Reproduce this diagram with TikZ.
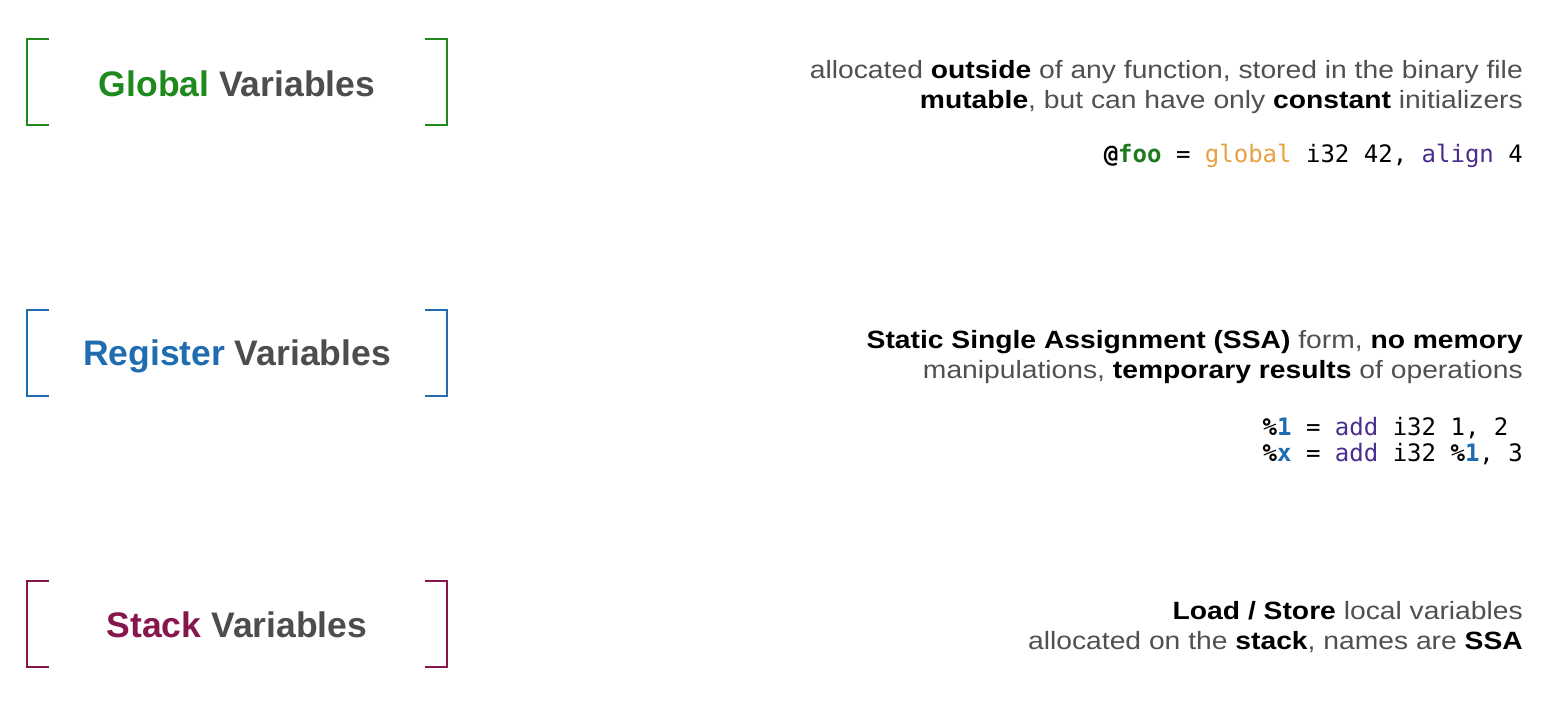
\documentclass[tikz,border=0pt]{standalone}
\usepackage{fontspec}
\setmainfont{Liberation Sans}
\setmonofont{DejaVu Sans Mono}
\newfontfamily\descfont{Liberation Sans}[FakeStretch=1.13]
\definecolor{globalgreen}{HTML}{1E8A1E}
\definecolor{regblue}{HTML}{1F6DB0}
\definecolor{stackred}{HTML}{86174C}
\definecolor{titlegray}{HTML}{4D4D4D}
\definecolor{textgray}{HTML}{505050}
\definecolor{kworange}{HTML}{E8A040}
\definecolor{kwpurple}{HTML}{4A2D8C}
\definecolor{foogreen}{HTML}{1E7A1E}
\begin{document}
\begin{tikzpicture}[x=1pt,y=-1pt,
	title/.style={font=\fontsize{35.5}{42}\selectfont\bfseries, text=titlegray, inner sep=0pt},
	desc/.style={font=\descfont\fontsize{25}{30}\selectfont, text=textgray, align=right, anchor=east, inner sep=0pt},
	code/.style={font=\fontsize{24}{26}\selectfont\ttfamily, align=left, anchor=east, inner sep=0pt},
	bracket/.style={line width=2pt}]
	\useasboundingbox[fill=white] (0,0) rectangle (1563,703);
	% global
	\draw[bracket, globalgreen] (49,39) -- (27,39) -- (27,125) -- (49,125);
	\draw[bracket, globalgreen] (425,39) -- (447,39) -- (447,125) -- (425,125);
	\node[title] (global) at (237,84) {\textcolor{globalgreen}{Global} Variables};
	\node[desc] (globaldesc) at (1523,87) {allocated \textcolor{black}{\bfseries outside} of any function, stored in the binary file\\
		\textcolor{black}{\bfseries mutable}, but can have only \textcolor{black}{\bfseries constant} initializers};
	\node[code] (globalcode) at (1523,156) {\textbf{@\textcolor{foogreen}{foo}} = \textcolor{kworange}{global} i32 42, \textcolor{kwpurple}{align} 4};
	% register
	\draw[bracket, regblue] (49,310) -- (27,310) -- (27,396) -- (49,396);
	\draw[bracket, regblue] (425,310) -- (447,310) -- (447,396) -- (425,396);
	\node[title] (register) at (237,356) {\textcolor{regblue}{Register} Variables};
	\node[desc] (registerdesc) at (1523,357) {\textcolor{black}{\bfseries Static Single Assignment (SSA)} form, \textcolor{black}{\bfseries no memory}\\
		manipulations, \textcolor{black}{\bfseries temporary results} of operations};
	\node[code] (registercode) at (1523,441) {\textbf{\%\textcolor{regblue}{1}} = \textcolor{kwpurple}{add} i32 1, 2\\
		\textbf{\%\textcolor{regblue}{x}} = \textcolor{kwpurple}{add} i32 \textbf{\%\textcolor{regblue}{1}}, 3};
	% stack
	\draw[bracket, stackred] (49,581) -- (27,581) -- (27,667) -- (49,667);
	\draw[bracket, stackred] (425,581) -- (447,581) -- (447,667) -- (425,667);
	\node[title] (stack) at (237,625) {\textcolor{stackred}{Stack} Variables};
	\node[desc] (stackdesc) at (1523,627) {\textcolor{black}{\bfseries Load / Store} local variables\\
		allocated on the \textcolor{black}{\bfseries stack}, names are \textcolor{black}{\bfseries SSA}};
\end{tikzpicture}
\end{document}
